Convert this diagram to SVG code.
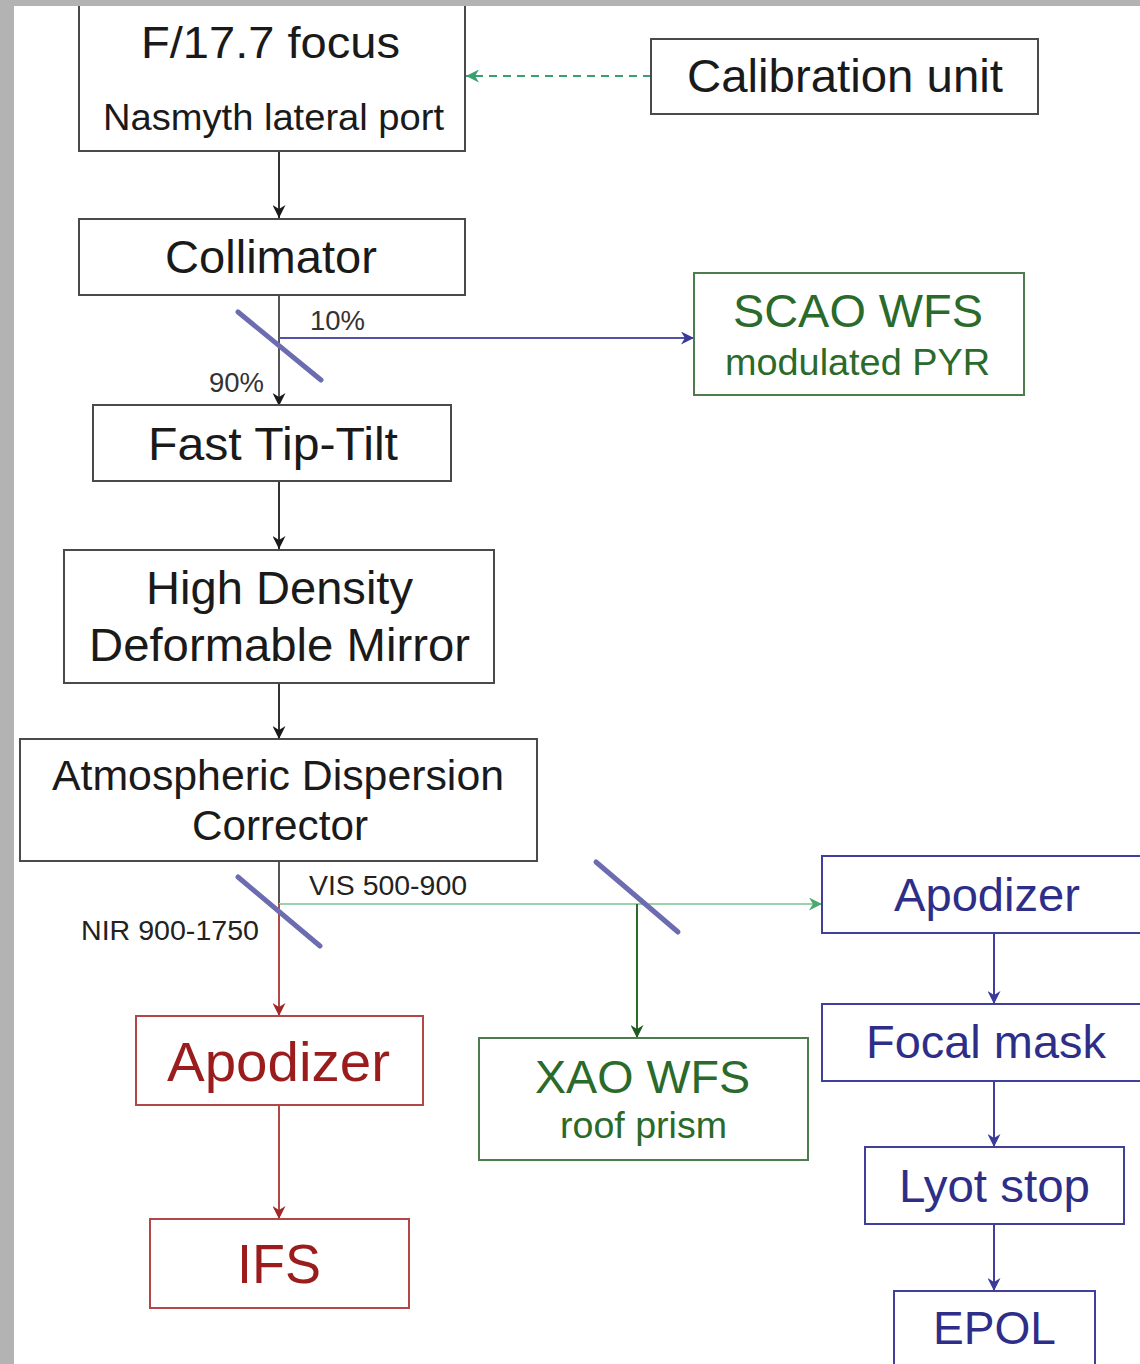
<svg xmlns="http://www.w3.org/2000/svg" width="1140" height="1364" viewBox="0 0 1140 1364">
<defs>
<style>
text{font-family:"Liberation Sans",Arial,sans-serif;text-anchor:middle}
.bk{fill:#fff;stroke:#4a4a4a;stroke-width:2}
.gr{fill:#fff;stroke:#4d7d4d;stroke-width:2}
.bl{fill:#fff;stroke:#40409a;stroke-width:2}
.rd{fill:#fff;stroke:#b04848;stroke-width:2}
.tk{fill:#1a1a1a}
.tg{fill:#2a6a2a}
.tb{fill:#2e2e88}
.tr{fill:#9a1c1c}
.c{fill:none;stroke-width:2}
.bs{stroke:#6c6cb0;stroke-width:5;stroke-linecap:round}
</style>
<marker id="ak" viewBox="0 0 10 10" refX="10" refY="5" markerWidth="13" markerHeight="13" markerUnits="userSpaceOnUse" orient="auto"><path d="M0,0 L10,5 L0,10 L3,5 z" fill="#1a1a1a"/></marker>
<marker id="ab" viewBox="0 0 10 10" refX="10" refY="5" markerWidth="13" markerHeight="13" markerUnits="userSpaceOnUse" orient="auto"><path d="M0,0 L10,5 L0,10 L3,5 z" fill="#3a3a9a"/></marker>
<marker id="ar" viewBox="0 0 10 10" refX="10" refY="5" markerWidth="13" markerHeight="13" markerUnits="userSpaceOnUse" orient="auto"><path d="M0,0 L10,5 L0,10 L3,5 z" fill="#a02828"/></marker>
<marker id="ag" viewBox="0 0 10 10" refX="10" refY="5" markerWidth="13" markerHeight="13" markerUnits="userSpaceOnUse" orient="auto"><path d="M0,0 L10,5 L0,10 L3,5 z" fill="#4aa870"/></marker>
<marker id="adg" viewBox="0 0 10 10" refX="10" refY="5" markerWidth="13" markerHeight="13" markerUnits="userSpaceOnUse" orient="auto"><path d="M0,0 L10,5 L0,10 L3,5 z" fill="#1e5a1e"/></marker>
<marker id="agd" viewBox="0 0 10 10" refX="10" refY="5" markerWidth="13" markerHeight="13" markerUnits="userSpaceOnUse" orient="auto"><path d="M0,0 L10,5 L0,10 L3,5 z" fill="#3aa070"/></marker>
</defs>
<rect x="0" y="0" width="1140" height="1364" fill="#fff"/>

<g id="connectors">
<line class="c" x1="651" y1="76" x2="466" y2="76" stroke="#3aa070" stroke-dasharray="8,6" marker-end="url(#agd)"/>
<line class="c" x1="279" y1="151" x2="279" y2="218" stroke="#333" marker-end="url(#ak)"/>
<line class="c" x1="279" y1="295" x2="279" y2="406" stroke="#555" marker-end="url(#ak)"/>
<line class="c" x1="279" y1="338" x2="694" y2="338" stroke="#5252a8" marker-end="url(#ab)"/>
<line class="c" x1="279" y1="481" x2="279" y2="549" stroke="#333" marker-end="url(#ak)"/>
<line class="c" x1="279" y1="683" x2="279" y2="739" stroke="#333" marker-end="url(#ak)"/>
<line class="c" x1="279" y1="861" x2="279" y2="904" stroke="#555"/>
<line class="c" x1="279" y1="904" x2="822" y2="904" stroke="#9ad2b0" marker-end="url(#ag)"/>
<line class="c" x1="637" y1="904" x2="637" y2="1038" stroke="#2a6a2a" marker-end="url(#adg)"/>
<line class="c" x1="279" y1="904" x2="279" y2="1016" stroke="#b04848" marker-end="url(#ar)"/>
<line class="c" x1="279" y1="1105" x2="279" y2="1219" stroke="#b04848" marker-end="url(#ar)"/>
<line class="c" x1="994" y1="933" x2="994" y2="1004" stroke="#40409a" marker-end="url(#ab)"/>
<line class="c" x1="994" y1="1081" x2="994" y2="1147" stroke="#40409a" marker-end="url(#ab)"/>
<line class="c" x1="994" y1="1224" x2="994" y2="1291" stroke="#40409a" marker-end="url(#ab)"/>
<line class="bs" x1="238" y1="312" x2="321" y2="380"/>
<line class="bs" x1="238" y1="877" x2="320" y2="946"/>
<line class="bs" x1="596" y1="862" x2="678" y2="932"/>
<text x="337.5" y="330" font-size="27" fill="#333" textLength="55" lengthAdjust="spacingAndGlyphs">10%</text>
<text x="236.5" y="392" font-size="27" fill="#333" textLength="55" lengthAdjust="spacingAndGlyphs">90%</text>
<text x="388" y="895" font-size="28" fill="#222" textLength="158" lengthAdjust="spacingAndGlyphs">VIS 500-900</text>
<text x="170" y="940" font-size="28" fill="#222" textLength="178" lengthAdjust="spacingAndGlyphs">NIR 900-1750</text>
</g>

<g id="focus">
<rect class="bk" x="79" y="-10" width="386" height="161"/>
<text x="270.5" y="58" font-size="45" class="tk" textLength="259" lengthAdjust="spacingAndGlyphs">F/17.7 focus</text>
<text x="273.5" y="130" font-size="37" class="tk" textLength="341" lengthAdjust="spacingAndGlyphs">Nasmyth lateral port</text>
</g>
<g id="calibration">
<rect class="bk" x="651" y="39" width="387" height="75"/>
<text x="845" y="92" font-size="47" class="tk" textLength="316" lengthAdjust="spacingAndGlyphs">Calibration unit</text>
</g>
<g id="collimator">
<rect class="bk" x="79" y="219" width="386" height="76"/>
<text x="271" y="273" font-size="46" class="tk" textLength="212" lengthAdjust="spacingAndGlyphs">Collimator</text>
</g>
<g id="scao">
<rect class="gr" x="694" y="273" width="330" height="122"/>
<text x="858" y="327" font-size="46" class="tg" textLength="250" lengthAdjust="spacingAndGlyphs">SCAO WFS</text>
<text x="857.5" y="375" font-size="37" class="tg" textLength="265" lengthAdjust="spacingAndGlyphs">modulated PYR</text>
</g>
<g id="tiptilt">
<rect class="bk" x="93" y="405" width="358" height="76"/>
<text x="273" y="460" font-size="46" class="tk" textLength="250" lengthAdjust="spacingAndGlyphs">Fast Tip-Tilt</text>
</g>
<g id="hddm">
<rect class="bk" x="64" y="550" width="430" height="133"/>
<text x="279.5" y="604" font-size="46" class="tk" textLength="267" lengthAdjust="spacingAndGlyphs">High Density</text>
<text x="279.5" y="661" font-size="46" class="tk" textLength="381" lengthAdjust="spacingAndGlyphs">Deformable Mirror</text>
</g>
<g id="adc">
<rect class="bk" x="20" y="739" width="517" height="122"/>
<text x="278" y="790" font-size="42" class="tk" textLength="452" lengthAdjust="spacingAndGlyphs">Atmospheric Dispersion</text>
<text x="280" y="840" font-size="42" class="tk" textLength="176" lengthAdjust="spacingAndGlyphs">Corrector</text>
</g>
<g id="apodizer-nir">
<rect class="rd" x="136" y="1016" width="287" height="89"/>
<text x="278.5" y="1081" font-size="55" class="tr" textLength="223" lengthAdjust="spacingAndGlyphs">Apodizer</text>
</g>
<g id="ifs">
<rect class="rd" x="150" y="1219" width="259" height="89"/>
<text x="279" y="1283" font-size="56" class="tr" textLength="84" lengthAdjust="spacingAndGlyphs">IFS</text>
</g>
<g id="xao">
<rect class="gr" x="479" y="1038" width="329" height="122"/>
<text x="642.5" y="1093" font-size="46" class="tg" textLength="215" lengthAdjust="spacingAndGlyphs">XAO WFS</text>
<text x="643.5" y="1138" font-size="37" class="tg" textLength="167" lengthAdjust="spacingAndGlyphs">roof prism</text>
</g>
<g id="apodizer-vis">
<rect class="bl" x="822" y="856" width="330" height="77"/>
<text x="987" y="911" font-size="47" class="tb" textLength="186" lengthAdjust="spacingAndGlyphs">Apodizer</text>
</g>
<g id="focalmask">
<rect class="bl" x="822" y="1004" width="330" height="77"/>
<text x="986" y="1058" font-size="46" class="tb" textLength="240" lengthAdjust="spacingAndGlyphs">Focal mask</text>
</g>
<g id="lyot">
<rect class="bl" x="865" y="1147" width="259" height="77"/>
<text x="994.5" y="1202" font-size="46" class="tb" textLength="191" lengthAdjust="spacingAndGlyphs">Lyot stop</text>
</g>
<g id="epol">
<rect class="bl" x="894" y="1291" width="201" height="100"/>
<text x="994.5" y="1344" font-size="46" class="tb" textLength="123" lengthAdjust="spacingAndGlyphs">EPOL</text>
</g>

<rect x="0" y="0" width="1140" height="6" fill="#b3b3b3"/>
<rect x="0" y="0" width="14" height="1364" fill="#b3b3b3"/>
</svg>
